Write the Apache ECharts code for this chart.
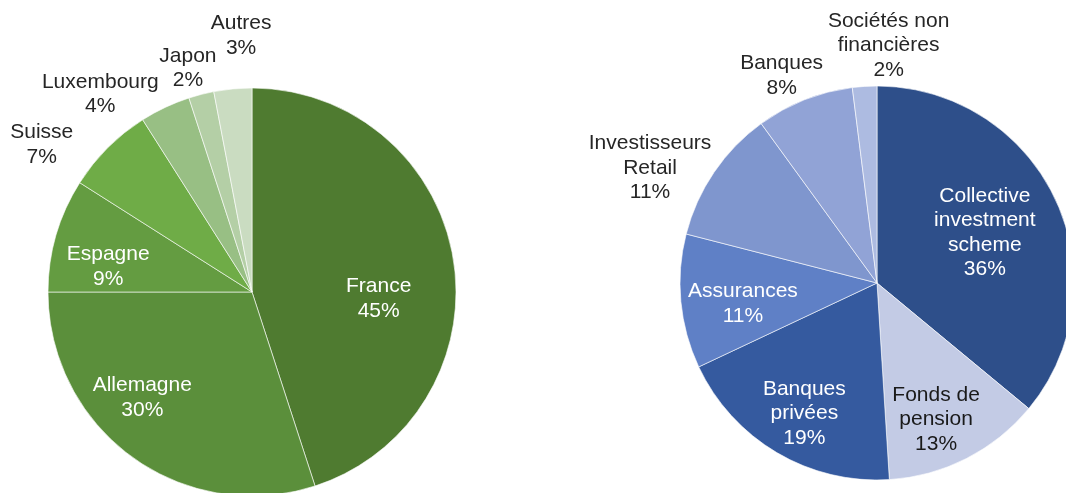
<!DOCTYPE html>
<html>
<head>
<meta charset="utf-8">
<script src="https://cdn.jsdelivr.net/npm/echarts@6/dist/echarts.min.js"></script>
<style>
  html, body { margin: 0; padding: 0; background: #fff; }
  #chart { width: 1066px; height: 493px; }
</style>
</head>
<body>
<div id="chart"></div>
<script>
// left pie: breakdown by country
const countryNames = ['France', 'Allemagne', 'Espagne', 'Suisse', 'Luxembourg', 'Japon', 'Autres']
const countryValues = [45, 30, 9, 7, 4, 2, 3]
const countryColors = ['#4f7b30', '#5b8f3b', '#649c41', '#6fac47', '#98bf84', '#b4cfa6', '#cadcc1']
const countryInside = [true, true, true, false, false, false, false]
const countryOffsets = [[23, 23], [-48, 21], [-43, 4], [-136, -73], [-107, -103], [-38, -122], [-1, -152]]

// right pie: breakdown by investor type
const investorNames = ['Collective\ninvestment\nscheme', 'Fonds de\npension', 'Banques\nprivées', 'Assurances', 'Investisseurs\nRetail', 'Banques', 'Sociétés non\nfinancières']
const investorValues = [36, 13, 19, 11, 11, 8, 2]
const investorColors = ['#2e4f8a', '#c3cbe5', '#355a9f', '#5f80c6', '#7f96ce', '#91a3d6', '#adbbe1']
const investorTextColors = ['#fff', '#1a1a1a', '#fff', '#fff', '#262626', '#262626', '#262626']
const investorOffsets = [[16, -7], [13, 46], [-21, 43], [-33, 11], [-143, -58], [-58, -113], [18, -136]]

const font = '"Liberation Sans", Arial, sans-serif'

function buildData (names, values, colors, textColors, offsets) {
  return names.map((name, i) => ({
    name: name,
    value: values[i],
    itemStyle: { color: colors[i] },
    label: { color: textColors[i], offset: offsets[i] }
  }))
}

const chart = echarts.init(document.getElementById('chart'), null, { renderer: 'canvas' })

const pieBase = {
  type: 'pie',
  startAngle: 90,
  clockwise: true,
  avoidLabelOverlap: false,
  animation: false,
  silent: true,
  itemStyle: {
    borderColor: 'rgba(255,255,255,0.6)',
    borderWidth: 1
  },
  label: {
    show: true,
    position: 'inside',
    rotate: 0,
    fontFamily: font,
    fontSize: 21,
    lineHeight: 24.5,
    align: 'center',
    formatter: p => p.name + '\n' + p.value + '%'
  },
  labelLayout: { hideOverlap: false },
  labelLine: { show: false }
}

chart.setOption({
  backgroundColor: '#fff',
  series: [
    Object.assign({}, pieBase, {
      center: [252, 292],
      radius: 204,
      data: buildData(countryNames, countryValues, countryColors,
        countryInside.map(v => v ? '#fff' : '#262626'), countryOffsets)
    }),
    Object.assign({}, pieBase, {
      center: [877, 283],
      radius: 197,
      data: buildData(investorNames, investorValues, investorColors, investorTextColors, investorOffsets)
    })
  ]
})
</script>
</body>
</html>
